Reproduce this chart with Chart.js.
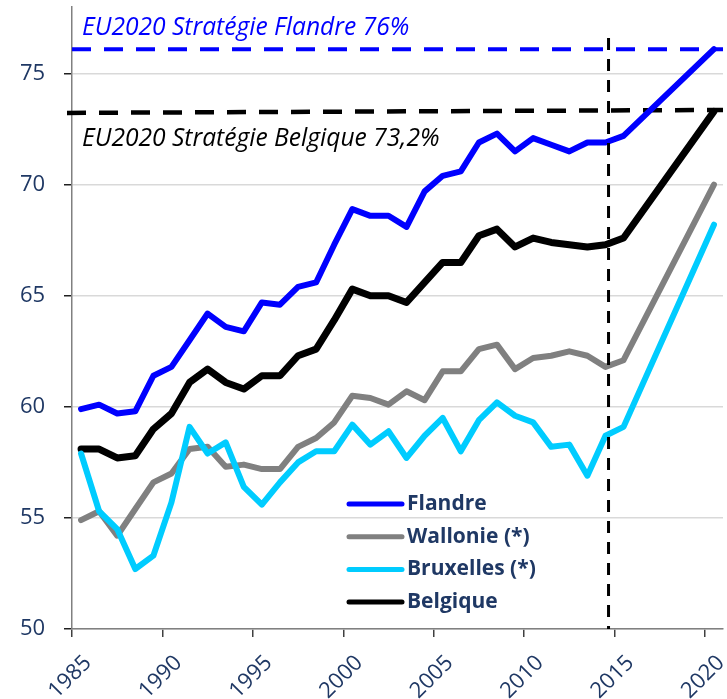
<!DOCTYPE html>
<html>
<head>
<meta charset="utf-8">
<script src="https://cdn.jsdelivr.net/npm/chart.js@4.4.1/dist/chart.umd.min.js"></script>
<style>
  html, body { margin: 0; padding: 0; background: #fff; }
  #wrap { width: 727px; height: 699px; }
</style>
</head>
<body>
<div id="wrap"><canvas id="chart"></canvas></div>
<script>
const years = [1985, 1986, 1987, 1988, 1989, 1990, 1991, 1992, 1993, 1994, 1995, 1996, 1997, 1998, 1999,
    2000, 2001, 2002, 2003, 2004, 2005, 2006, 2007, 2008, 2009, 2010, 2011, 2012, 2013, 2014, 2015, 2020];

const flandre = [59.9, 60.1, 59.7, 59.8, 61.4, 61.8, 63.0, 64.2, 63.6, 63.4, 64.7, 64.6, 65.4, 65.6, 67.3,
    68.9, 68.6, 68.6, 68.1, 69.7, 70.4, 70.6, 71.9, 72.3, 71.5, 72.1, 71.8, 71.5, 71.9, 71.9, 72.2, 76.1];
const wallonie = [54.9, 55.3, 54.2, 55.4, 56.6, 57.0, 58.1, 58.2, 57.3, 57.4, 57.2, 57.2, 58.2, 58.6, 59.3,
    60.5, 60.4, 60.1, 60.7, 60.3, 61.6, 61.6, 62.6, 62.8, 61.7, 62.2, 62.3, 62.5, 62.3, 61.8, 62.1, 70.0];
const bruxelles = [57.9, 55.3, 54.5, 52.7, 53.3, 55.7, 59.1, 57.9, 58.4, 56.4, 55.6, 56.6, 57.5, 58.0, 58.0,
    59.2, 58.3, 58.9, 57.7, 58.7, 59.5, 58.0, 59.4, 60.2, 59.6, 59.3, 58.2, 58.3, 56.9, 58.7, 59.1, 68.2];
const belgique = [58.1, 58.1, 57.7, 57.8, 59.0, 59.7, 61.1, 61.7, 61.1, 60.8, 61.4, 61.4, 62.3, 62.6, 63.9,
    65.3, 65.0, 65.0, 64.7, 65.6, 66.5, 66.5, 67.7, 68.0, 67.2, 67.6, 67.4, 67.3, 67.2, 67.3, 67.6, 73.3];

const xTicks = [1985, 1990, 1995, 2000, 2005, 2010, 2015, 2020];
const yTicks = [50, 55, 60, 65, 70, 75];

const seriesNames = ['Flandre', 'Wallonie (*)', 'Bruxelles (*)', 'Belgique'];
const seriesColors = ['#0000FF', '#808080', '#00CCFF', '#000000'];

// EU2020 targets and the 2014/2015 split line
const targetFlandre = 76.1;
const targetBelgique = 73.3;
const targetFlandreLabel = 'EU2020 Stratégie Flandre 76%';
const targetBelgiqueLabel = 'EU2020 Stratégie Belgique 73,2%';
const splitYear = 2014.67;

const navy = '#1F3864';
const font = "'Open Sans', sans-serif";

// each year sits in the middle of its slot on the axis
function points(values) {
    return values.map((v, i) => ({ x: years[i] + 0.5, y: v }));
}

const annotations = {
    id: 'annotations',
    beforeDatasetsDraw(chart) {
        const { ctx, chartArea, scales } = chart;
        ctx.save();
        ctx.lineWidth = 4;
        ctx.setLineDash([19, 13]);
        ctx.strokeStyle = '#0000FF';
        let y = scales.y.getPixelForValue(targetFlandre);
        ctx.beginPath();
        ctx.moveTo(chartArea.left, y);
        ctx.lineTo(chartArea.right, y);
        ctx.stroke();

        ctx.strokeStyle = '#000000';
        ctx.lineWidth = 4.5;
        y = scales.y.getPixelForValue(targetBelgique);
        ctx.beginPath();
        ctx.moveTo(chartArea.left - 5, y + 1.5);
        ctx.lineTo(chartArea.right, y - 1.5);
        ctx.stroke();
        ctx.restore();
    },
    afterDatasetsDraw(chart) {
        const { ctx, chartArea, scales } = chart;
        ctx.save();
        const x = scales.x.getPixelForValue(splitYear);
        ctx.strokeStyle = '#000000';
        ctx.lineWidth = 3;
        ctx.setLineDash([12, 9]);
        ctx.beginPath();
        ctx.moveTo(x, scales.y.getPixelForValue(76.6));
        ctx.lineTo(x, chartArea.bottom);
        ctx.stroke();
        ctx.setLineDash([]);

        ctx.font = 'italic 24.6px ' + font;
        ctx.textBaseline = 'middle';
        ctx.fillStyle = '#0000FF';
        ctx.fillText(targetFlandreLabel, 82, 28);
        ctx.fillStyle = '#000000';
        ctx.fillText(targetBelgiqueLabel, 82, 139);
        ctx.restore();
    },
    afterDraw(chart) {
        const { ctx } = chart;
        ctx.save();
        ctx.font = 'bold 21px ' + font;
        ctx.textBaseline = 'middle';
        ctx.lineCap = 'round';
        ctx.lineWidth = 5;
        seriesNames.forEach((name, i) => {
            const y = 504 + i * 32.7;
            ctx.strokeStyle = seriesColors[i];
            ctx.beginPath();
            ctx.moveTo(349, y);
            ctx.lineTo(402, y);
            ctx.stroke();
            ctx.fillStyle = navy;
            ctx.fillText(name, 407, y);
        });
        ctx.restore();
    }
};

const datasets = [flandre, wallonie, bruxelles, belgique].map((values, i) => ({
    label: seriesNames[i],
    data: points(values),
    borderColor: seriesColors[i],
    backgroundColor: seriesColors[i],
    borderWidth: i === 3 ? 7 : 6,
    pointRadius: 0,
    borderJoinStyle: 'round',
    borderCapStyle: 'round',
    tension: 0,
    order: [0, 2, 1, 3][i]
}));

new Chart(document.getElementById('chart'), {
    type: 'line',
    data: { datasets: datasets },
    options: {
        responsive: true,
        maintainAspectRatio: false,
        animation: false,
        layout: { padding: { top: 7, right: 4, left: 20, bottom: 0 } },
        plugins: {
            legend: { display: false },
            tooltip: { enabled: false }
        },
        scales: {
            x: {
                type: 'linear',
                min: 1985,
                max: 2021,
                afterBuildTicks: scale => {
                    scale.ticks = xTicks.map(v => ({ value: v }));
                },
                afterFit: scale => {
                    scale.height = 70;
                    scale.paddingLeft = 0;
                    scale.paddingRight = 0;
                },
                ticks: {
                    autoSkip: false,
                    maxRotation: 45,
                    minRotation: 45,
                    color: navy,
                    font: { family: font, size: 22 },
                    padding: 13,
                    labelOffset: 16,
                    callback: v => String(v)
                },
                grid: { drawOnChartArea: false, tickLength: 8, tickColor: '#404040', lineWidth: 1.5 },
                border: { color: '#808080', width: 1.5 }
            },
            y: {
                min: 50,
                max: 78,
                afterBuildTicks: scale => {
                    scale.ticks = yTicks.map(v => ({ value: v }));
                },
                afterFit: scale => {
                    scale.width = 52;
                    scale.paddingTop = 0;
                    scale.paddingBottom = 0;
                },
                ticks: {
                    color: navy,
                    font: { family: font, size: 22 },
                    crossAlign: 'far'
                },
                grid: { color: '#D9D9D9', lineWidth: 1.5, tickLength: 8, tickColor: '#202020' },
                border: { color: '#808080', width: 1.5 }
            }
        }
    },
    plugins: [annotations]
});
</script>
</body>
</html>
